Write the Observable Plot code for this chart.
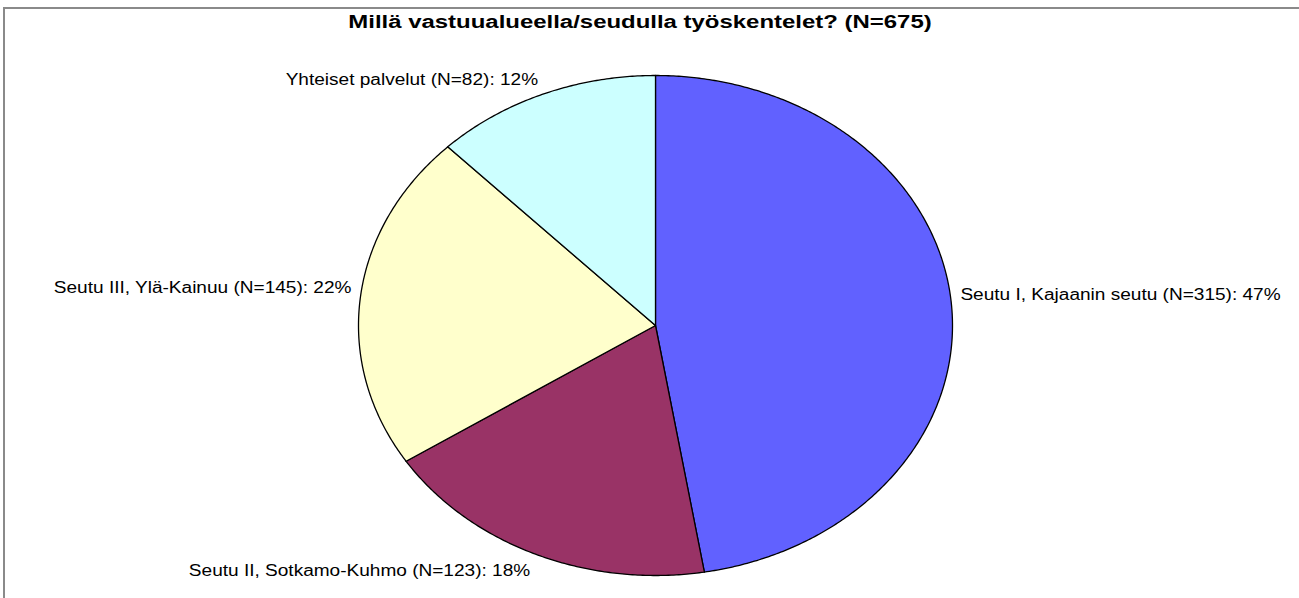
<!DOCTYPE html>
<html>
<head>
<meta charset="utf-8">
<script src="https://cdn.jsdelivr.net/npm/d3@7"></script>
<script src="https://cdn.jsdelivr.net/npm/@observablehq/plot@0.6"></script>
<style>
  html, body { margin: 0; padding: 0; background: #fff; overflow: hidden; }
  #wrap { position: relative; width: 1299px; height: 598px; }
  #border { position: absolute; left: 3px; top: 7px; width: 1400px; height: 700px;
            border-left: 2px solid #8a8a8a; border-top: 2px solid #8a8a8a; box-sizing: border-box; pointer-events: none; }
  svg { font-family: "Liberation Sans", Arial, sans-serif; }
</style>
</head>
<body>
<div id="wrap"><div id="border"></div></div>
<script>
// ---- data ----
const title = "Millä vastuualueella/seudulla työskentelet? (N=675)";
const categories = ["Seutu I, Kajaanin seutu", "Seutu II, Sotkamo-Kuhmo", "Seutu III, Ylä-Kainuu", "Yhteiset palvelut"];
const counts = [315, 123, 145, 82];
const percents = [47, 18, 22, 12];
const colors = ["#6161ff", "#993366", "#ffffcc", "#ccffff"];

// ---- geometry (unit ellipse, angles clockwise from 12 o'clock) ----
const arcs = d3.pie().sort(null).startAngle(0).endAngle(2 * Math.PI)(counts);
const step = Math.PI / 360;
const slicePts = [];
arcs.forEach((a, i) => {
  const name = categories[i];
  slicePts.push({name, x: 0, y: 0});
  const n = Math.max(2, Math.ceil((a.endAngle - a.startAngle) / step));
  for (let k = 0; k <= n; k++) {
    const t = a.startAngle + (a.endAngle - a.startAngle) * k / n;
    slicePts.push({name, x: Math.sin(t), y: Math.cos(t)});
  }
});
const labelR = 1.02;
const labels = arcs.map((a, i) => {
  const m = (a.startAngle + a.endAngle) / 2;
  return {
    text: `${categories[i]} (N=${counts[i]}): ${percents[i]}%`,
    x: labelR * Math.sin(m),
    y: labelR * Math.cos(m)
  };
});

const labelMark = (filter, textAnchor, lineAnchor, dx, dy) =>
  Plot.text(labels.filter(filter), {x: "x", y: "y", text: "text", textAnchor, lineAnchor,
                                    dx, dy, fontSize: 16, fill: "#000"});

const chart = Plot.plot({
  width: 1299,
  height: 598,
  margin: 0,
  x: {domain: [-1, 1], range: [358, 952], axis: null},
  y: {domain: [-1, 1], range: [575, 75], axis: null},
  color: {domain: categories, range: colors},
  style: {fontFamily: "Liberation Sans, Arial, sans-serif", background: "transparent"},
  marks: [
    Plot.line(slicePts, {x: "x", y: "y", z: "name", fill: "name", stroke: "#000", strokeWidth: 1.3,
                         curve: "linear-closed", strokeLinejoin: "round"}),
    labelMark(d => d.x >= 0 && d.y >= 0, "start", "bottom", 3, -4),
    labelMark(d => d.x < 0 && d.y >= 0, "end", "bottom", -3, -4),
    labelMark(d => d.x >= 0 && d.y < 0, "start", "top", 3, 6),
    labelMark(d => d.x < 0 && d.y < 0, "end", "top", -3, 6),
    Plot.text([title], {frameAnchor: "top", dx: -10, dy: 22, lineAnchor: "middle",
                        fontSize: 18, fontWeight: "bold", fill: "#000", className: "title"})
  ]
});
chart.style.position = "absolute";
chart.style.left = "0";
chart.style.top = "0";
document.getElementById("wrap").prepend(chart);

// the reference image is stretched horizontally; widen glyphs the same way
chart.querySelectorAll("text").forEach(el => {
  const stretch = el.closest(".title") ? 1.33 : 1.19;
  const w = el.getComputedTextLength();
  el.setAttribute("textLength", (w * stretch).toFixed(1));
  el.setAttribute("lengthAdjust", "spacingAndGlyphs");
});
</script>
</body>
</html>
